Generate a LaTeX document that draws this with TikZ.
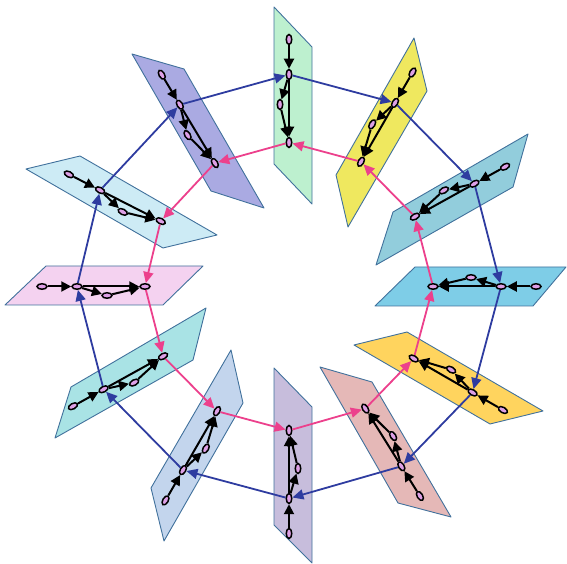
\documentclass[tikz,border=0pt]{standalone}
\usepackage{tikz}
\usetikzlibrary{arrows.meta,shapes.geometric}
\definecolor{planeline}{RGB}{65,113,156}
\definecolor{skyplane}{RGB}{126,205,231}
\definecolor{tealplane}{RGB}{146,205,220}
\definecolor{yellowplane}{RGB}{239,232,95}
\definecolor{mintplane}{RGB}{189,240,207}
\definecolor{violetplane}{RGB}{170,170,226}
\definecolor{iceplane}{RGB}{205,235,245}
\definecolor{pinkplane}{RGB}{244,210,240}
\definecolor{aquaplane}{RGB}{169,227,229}
\definecolor{steelplane}{RGB}{195,213,237}
\definecolor{lilacplane}{RGB}{199,189,220}
\definecolor{roseplane}{RGB}{229,184,183}
\definecolor{goldplane}{RGB}{255,212,94}
\definecolor{vertfill}{RGB}{222,160,230}
\definecolor{linkblue}{RGB}{46,60,160}
\definecolor{linkpink}{RGB}{236,64,140}
\tikzset{
  plane/.style={draw=planeline, line width=0.9pt, line join=round},
  vert/.style={draw, ellipse, line width=1.5pt, fill=vertfill, inner sep=0pt, minimum width=10pt, minimum height=5.5pt},
  flow/.style={-{Triangle[length=10pt,width=10pt]}, line width=2pt},
  outerlink/.style={-{Triangle[length=11pt,width=10pt]}, line width=1.8pt, draw=linkblue},
  innerlink/.style={-{Triangle[length=11pt,width=10pt]}, line width=1.8pt, draw=linkpink}
}
\begin{document}
\begin{tikzpicture}[x=1pt,y=1pt]
  \useasboundingbox (0,0) rectangle (567,564);
  % planes
  \draw[plane, fill=skyplane] (415,297) -- (566,297) -- (533,258) -- (375,258) -- cycle;
  \draw[plane, fill=tealplane] (528,430) -- (513,377) -- (376,299) -- (393,352) -- cycle;
  \draw[plane, fill=yellowplane] (414,526) -- (427,473) -- (348,337) -- (336,389) -- cycle;
  \draw[plane, fill=mintplane] (274,557) -- (312,517) -- (312,360) -- (274,400) -- cycle;
  \draw[plane, fill=violetplane] (132,510) -- (184,495) -- (264,356) -- (211,373) -- cycle;
  \draw[plane, fill=iceplane] (26,395) -- (80,408) -- (217,329) -- (163,316) -- cycle;
  \draw[plane, fill=pinkplane] (46,298) -- (203,298) -- (163,259) -- (5,259) -- cycle;
  \draw[plane, fill=aquaplane] (206,256) -- (193,204) -- (55,126) -- (71,177) -- cycle;
  \draw[plane, fill=steelplane] (231,214) -- (243,161) -- (164,23) -- (151,76) -- cycle;
  \draw[plane, fill=lilacplane] (274,196) -- (312,157) -- (312,1) -- (274,39) -- cycle;
  \draw[plane, fill=roseplane] (320,197) -- (372,182) -- (451,47) -- (398,61) -- cycle;
  \draw[plane, fill=goldplane] (354,219) -- (407,232) -- (543,153) -- (490,140) -- cycle;
  % one small graph per plane
  \foreach \k/\a in {0/0,1/29,2/60,3/90,4/121,5/153,6/180,7/209,8/240,9/270,10/302,11/330} {
    \begin{scope}[shift={(289,277.5)}, rotate=\a, transform shape]
      \node[vert] (s\k) at (247,0) {};
      \node[vert] (o\k) at (212,0) {};
      \node[vert] (m\k) at (182,9) {};
      \node[vert] (i\k) at (144,0) {};
      \draw[flow] (s\k) -- (o\k);
      \draw[flow] (o\k) -- (m\k);
      \draw[flow] (m\k) -- (i\k);
      \draw[flow] (o\k) -- (i\k);
    \end{scope}
  }
  % rings
  \foreach \k in {0,...,11} {
    \pgfmathtruncatemacro\prev{mod(\k+11,12)}
    \pgfmathtruncatemacro\next{mod(\k+1,12)}
    \draw[outerlink] (o\k) -- (o\prev);
    \draw[innerlink] (i\k) -- (i\next);
  }
\end{tikzpicture}
\end{document}
